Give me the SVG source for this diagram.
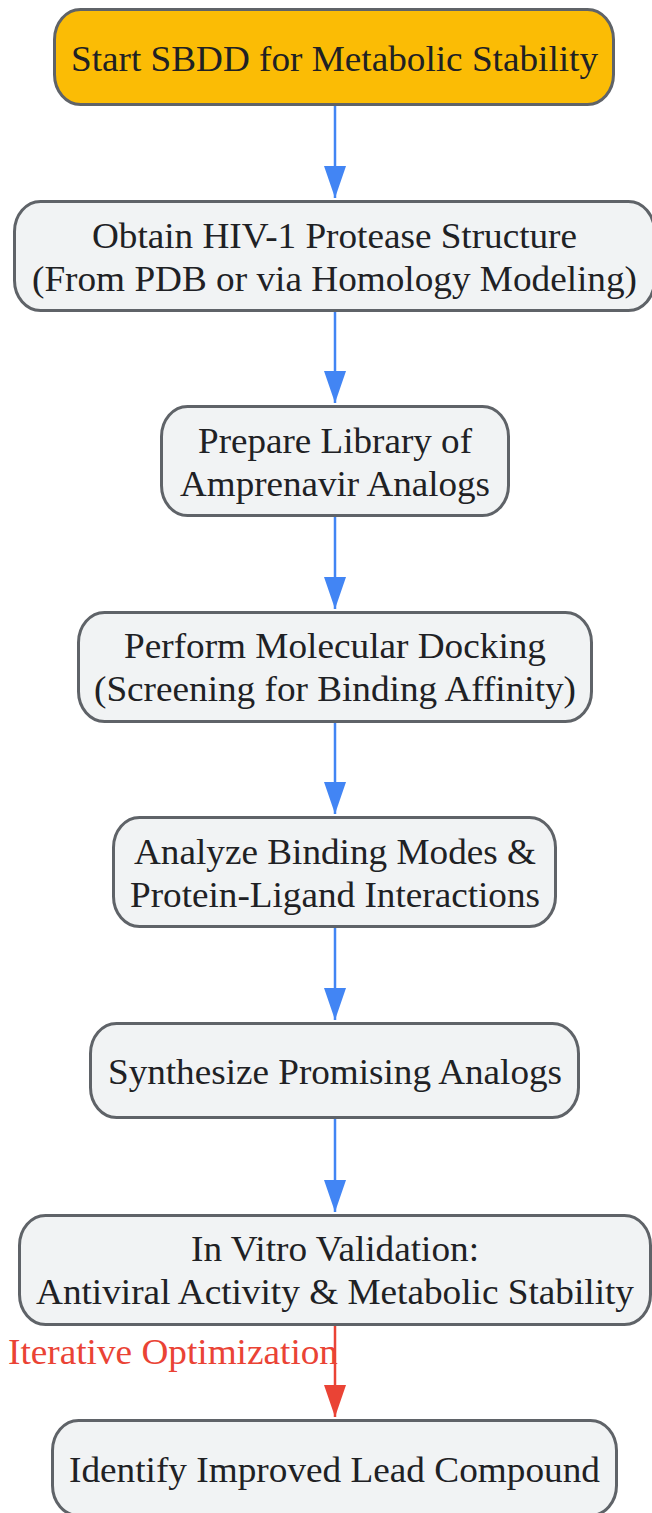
<svg xmlns="http://www.w3.org/2000/svg" width="652" height="1513" viewBox="0 0 652 1513">
<defs>
<style>
.node rect{fill:#f1f3f4;stroke:#5f6368;stroke-width:3}
.node.start rect{fill:#fbbc05}
.node text, .lbl{font-family:"Liberation Serif","Times New Roman",serif;font-size:36px;fill:#202124;text-anchor:middle}
.lbl{fill:#ea4335;text-anchor:start}
.edge{stroke:#4285f4;stroke-width:2.5;fill:none}
.edge.red{stroke:#ea4335}
</style>
<marker id="ah" markerUnits="userSpaceOnUse" markerWidth="22" markerHeight="32" refX="11" refY="32" orient="0" viewBox="0 0 22 32">
<path d="M0,0 L22,0 L11,32 Z" fill="#4285f4"/>
</marker>
<marker id="ahr" markerUnits="userSpaceOnUse" markerWidth="22" markerHeight="32" refX="11" refY="32" orient="0" viewBox="0 0 22 32">
<path d="M0,0 L22,0 L11,32 Z" fill="#ea4335"/>
</marker>
</defs>
<rect width="652" height="1513" fill="#ffffff"/>
<g id="connectors">
<path class="edge" d="M335,106 V198" marker-end="url(#ah)"/>
<path class="edge" d="M335,312 V403" marker-end="url(#ah)"/>
<path class="edge" d="M335,517 V609" marker-end="url(#ah)"/>
<path class="edge" d="M335,723 V814" marker-end="url(#ah)"/>
<path class="edge" d="M335,928 V1020" marker-end="url(#ah)"/>
<path class="edge" d="M335,1119 V1212" marker-end="url(#ah)"/>
<path class="edge red" d="M335,1326 V1417" marker-end="url(#ahr)"/>
<text class="lbl" x="8" y="1364" textLength="330" lengthAdjust="spacingAndGlyphs">Iterative Optimization</text>
</g>
<g id="n1" class="node start">
<rect x="54.5" y="9.5" width="559" height="95" rx="26" ry="30"/>
<text x="334.5" y="71" textLength="527" lengthAdjust="spacingAndGlyphs">Start SBDD for Metabolic Stability</text>
</g>
<g id="n2" class="node">
<rect x="14.5" y="201.5" width="640" height="109" rx="26" ry="30"/>
<text x="334.5" y="248" textLength="485" lengthAdjust="spacingAndGlyphs">Obtain HIV-1 Protease Structure</text>
<text x="334.5" y="291" textLength="605" lengthAdjust="spacingAndGlyphs">(From PDB or via Homology Modeling)</text>
</g>
<g id="n3" class="node">
<rect x="161.5" y="406.5" width="347" height="109" rx="26" ry="30"/>
<text x="335" y="453" textLength="274" lengthAdjust="spacingAndGlyphs">Prepare Library of</text>
<text x="335" y="496" textLength="310" lengthAdjust="spacingAndGlyphs">Amprenavir Analogs</text>
</g>
<g id="n4" class="node">
<rect x="78.5" y="612.5" width="513" height="109" rx="26" ry="30"/>
<text x="335" y="658" textLength="422" lengthAdjust="spacingAndGlyphs">Perform Molecular Docking</text>
<text x="335" y="701" textLength="482" lengthAdjust="spacingAndGlyphs">(Screening for Binding Affinity)</text>
</g>
<g id="n5" class="node">
<rect x="113.5" y="817.5" width="442" height="109" rx="26" ry="30"/>
<text x="335" y="864" textLength="402" lengthAdjust="spacingAndGlyphs">Analyze Binding Modes &amp;</text>
<text x="335" y="907" textLength="410" lengthAdjust="spacingAndGlyphs">Protein-Ligand Interactions</text>
</g>
<g id="n6" class="node">
<rect x="90.5" y="1023.5" width="488" height="94" rx="26" ry="30"/>
<text x="335" y="1084" textLength="454" lengthAdjust="spacingAndGlyphs">Synthesize Promising Analogs</text>
</g>
<g id="n7" class="node">
<rect x="19.5" y="1215.5" width="631" height="109" rx="26" ry="30"/>
<text x="335" y="1261" textLength="288" lengthAdjust="spacingAndGlyphs">In Vitro Validation:</text>
<text x="335" y="1304" textLength="598" lengthAdjust="spacingAndGlyphs">Antiviral Activity &amp; Metabolic Stability</text>
</g>
<g id="n8" class="node">
<rect x="52.5" y="1420.5" width="564" height="95" rx="26" ry="30"/>
<text x="334.5" y="1482" textLength="531" lengthAdjust="spacingAndGlyphs">Identify Improved Lead Compound</text>
</g>
</svg>
